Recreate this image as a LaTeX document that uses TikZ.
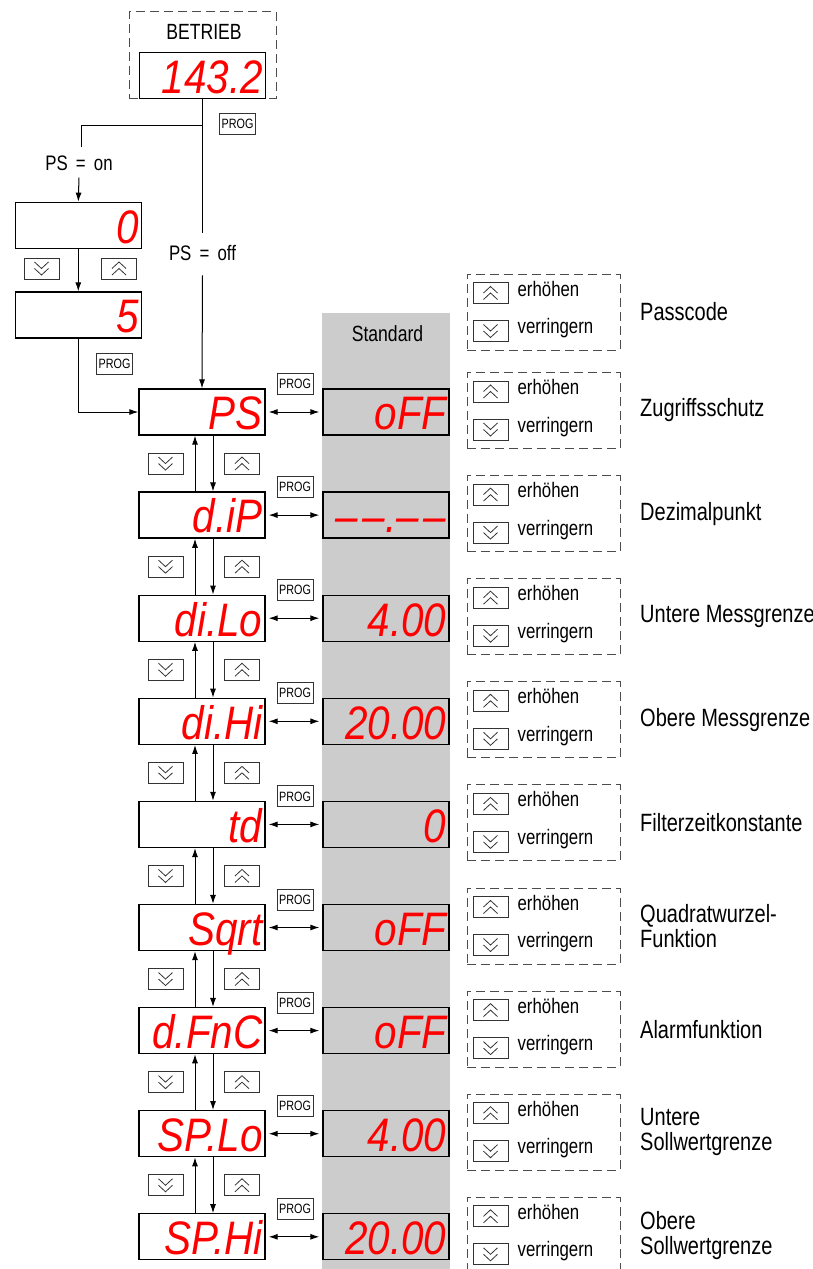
\documentclass[tikz,border=0pt]{standalone}
\usepackage{fontspec}
\setmainfont{Liberation Sans}[FakeStretch=0.8]
\newfontfamily\segfont{Liberation Sans}[FakeStretch=0.86]
\usetikzlibrary{arrows.meta, calc}

\begin{document}
\begin{tikzpicture}[x=1pt, y=-1pt,
  wire/.style={line width=1pt},
  arr/.style={wire, -{Latex[length=9pt, width=6pt]}},
  darr/.style={wire, {Latex[length=9pt, width=6pt]}-{Latex[length=9pt, width=6pt]}},
  disp/.style={draw, line width=1.3pt, minimum width=126pt, minimum height=46pt, inner sep=0pt},
  segtxt/.style={text=red, font=\segfont\itshape\fontsize{47}{47}\selectfont, inner sep=0pt, anchor=east, text height=33.7pt, text depth=0pt},
  btn/.style={draw=black!80, line width=0.9pt, minimum width=35pt, minimum height=21pt, inner sep=0pt},
  progbtn/.style={btn, font=\fontsize{13.5}{13.5}\selectfont, minimum width=36pt},
  upbtn/.style={btn, path picture={\draw[line width=0.8pt, shift={(path picture bounding box.center)}] (-7,6.5)--(0,0)--(7,6.5) (-7,0)--(0,-6.5)--(7,0);}},
  dnbtn/.style={btn, path picture={\draw[line width=0.8pt, shift={(path picture bounding box.center)}] (-7,-6.5)--(0,0)--(7,-6.5) (-7,0)--(0,6.5)--(7,0);}},
  keybox/.style={draw=black!70, dash pattern=on 9pt off 5pt, line width=1pt, minimum width=153pt, minimum height=76pt, inner sep=0pt},
  txt/.style={font=\fontsize{21}{21}\selectfont, inner sep=0pt},
  keytxt/.style={font=\fontsize{21}{21}\selectfont, inner sep=0pt, anchor=base west},
  lbl/.style={font=\fontsize{25}{25.5}\selectfont, align=left, anchor=west, inner sep=0pt}
]
\useasboundingbox (0,0) rectangle (813,1269);
\fill[black!20] (322,313) rectangle (450,1269);
\node[txt, font=\fontsize{22}{22}\selectfont] (std) at (387.5,334) {Standard};

% Betrieb
\node[keybox, minimum width=146.7pt, minimum height=86.6pt] (betrieb) at (202.7,55) {};
\node[txt, font=\fontsize{22}{22}\selectfont] (bt) at (204,32) {BETRIEB};
\node[disp] (run) at (202.5,75.3) {};
\node[segtxt] (runv) at ($(run.east)+(-3,1)$) {143.2};
\coordinate (br) at (202.5,125);
\node[progbtn] (pg0) at (237.5,123.5) {PROG};
\node[txt] (pson) at (79,163) {PS \,=\, on};
\node[txt] (psoff) at (202.5,252.5) {PS \,=\, off};
\draw[wire] (run.south) -- (br) -| ($(pson.north)+(2,-8)$);
\draw[wire] (br) -- ($(psoff.north)+(0,-12)$);

% Passcode
\node[disp] (p0) at (78.3,225.3) {};
\node[segtxt] (p0v) at ($(p0.east)+(-3,1)$) {0};
\node[disp] (p5) at (78.3,315) {};
\node[segtxt] (p5v) at ($(p5.east)+(-3,1)$) {5};
\draw[arr] ($(pson.south)+(0,7)$) -- (p0.north);
\draw[arr] (p0.south) -- (p5.north);
\node[dnbtn] (dn0) at (41.5,268.5) {};
\node[upbtn] (up0) at (119,268.5) {};
\node[progbtn] (pg1) at (114.5,363.5) {PROG};

% Parameter
\foreach \i/\code/\std in {1/PS/oFF, 2/d.iP/{–\kern5pt–.–\kern5pt–}, 3/di.Lo/4.00, 4/di.Hi/20.00, 5/td/0,
    6/Sqrt/oFF, 7/d.FnC/oFF, 8/SP.Lo/4.00, 9/SP.Hi/20.00}
{
  \pgfmathsetmacro\y{412+(\i-1)*103.1}
  \node[disp] (m\i) at (202,\y) {};
  \node[segtxt] (mv\i) at ($(m\i.east)+(-3,1)$) {\code};
  \node[disp, fill=black!20] (s\i) at (386,\y) {};
  \node[segtxt] (sv\i) at ($(s\i.east)+(-3,1)$) {\std};
  \node[progbtn] (pm\i) at (295,\y-28) {PROG};
  \draw[darr] ($(m\i.east)+(3,0)$) -- ($(s\i.west)+(-3,0)$);
}
\foreach \i [count=\j from 2] in {1,...,8}
{
  \draw[arr] ($(m\i.south)+(11,0)$) -- ($(m\j.north)+(11,0)$);
  \draw[arr] ($(m\j.north)+(-7,0)$) -- ($(m\i.south)+(-7,0)$);
  \node[dnbtn] (dn\j) at ($(m\i.south)!0.5!(m\j.north)+(-36.5,0)$) {};
  \node[upbtn] (up\j) at ($(m\i.south)!0.5!(m\j.north)+(40,0)$) {};
}
\draw[arr] (p5.south) |- (m1.west);
\draw[arr] ($(psoff.south)+(0,15)$) -- (m1.north);

% Tasten
\foreach \k/\lab in {0/Passcode, 1/Zugriffsschutz, 2/Dezimalpunkt, 3/Untere Messgrenze,
    4/Obere Messgrenze, 5/Filterzeitkonstante, 6/{Quadratwurzel-\\Funktion}, 7/Alarmfunktion,
    8/{Untere\\Sollwertgrenze}, 9/{Obere\\Sollwertgrenze}}
{
  \pgfmathsetmacro\y{\k==0 ? 312 : 410.5+(\k-1)*103.1}
  \node[keybox] (kb\k) at (543.5,\y) {};
  \node[upbtn] (ku\k) at (490.5,\y-19) {};
  \node[keytxt] (ke\k) at ($(ku\k.east)+(9,3)$) {erhöhen};
  \node[dnbtn] (kd\k) at (490.5,\y+19) {};
  \node[keytxt] (kv\k) at ($(kd\k.east)+(9,2.5)$) {verringern};
  \node[lbl] (lb\k) at (640,\y) {\lab};
}
\end{tikzpicture}
\end{document}
